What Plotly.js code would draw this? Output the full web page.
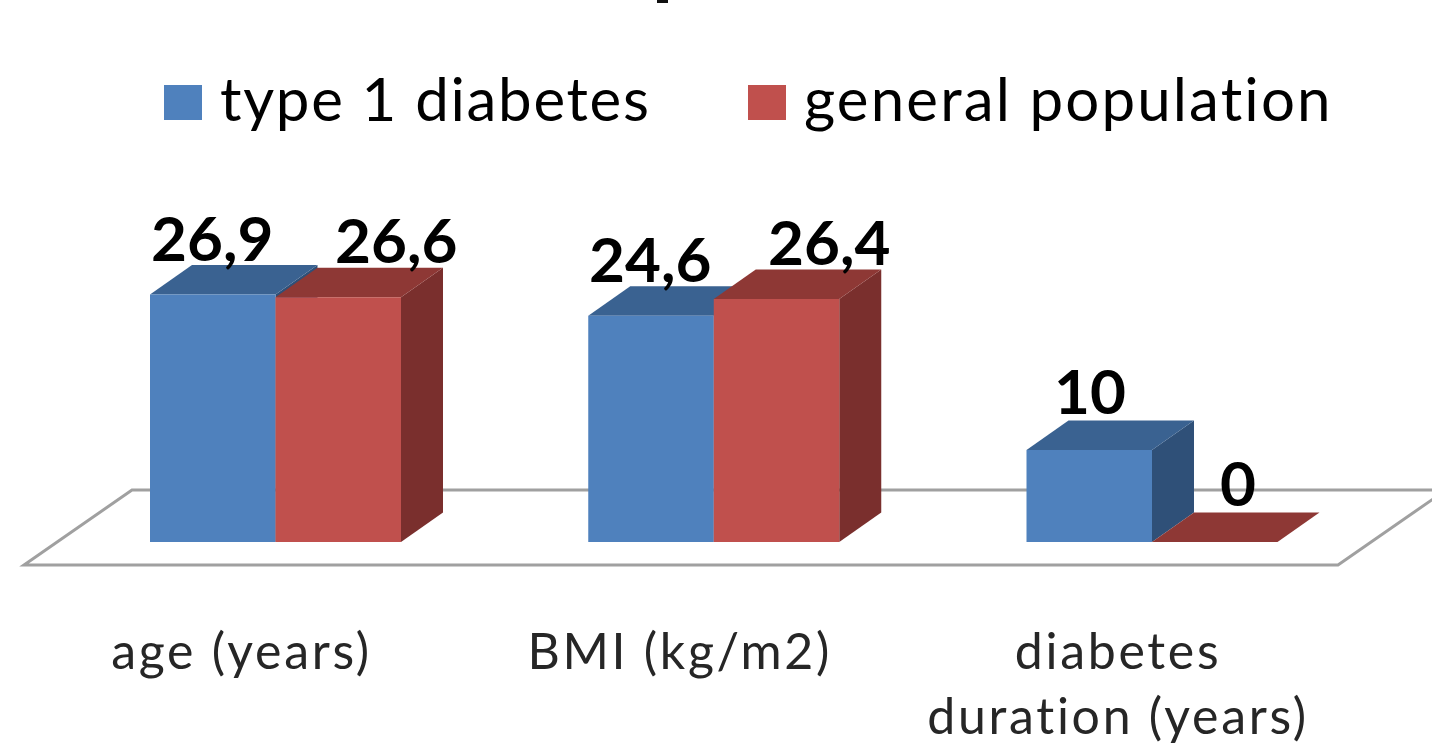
<!DOCTYPE html>
<html>
<head>
<meta charset="utf-8">
<script src="https://cdn.plot.ly/plotly-3.0.1.min.js"></script>
<style>
html,body{margin:0;padding:0;background:#fff;overflow:hidden}
/* Larger legend swatches and slightly open letter spacing for the big type */
.legend .legendpoints path{d:path("M19,22.5H-19V-12.5H19Z") !important}
.legend .scrollbox{clip-path:none !important}
.legendtext{letter-spacing:1.7px;font-variant-ligatures:none}
.legend .traces:nth-child(2) .legendtext{letter-spacing:2.15px}
.xtick text{letter-spacing:2.7px;font-variant-ligatures:none}
</style>
</head>
<body>
<div id="chart" style="width:1432px;height:753px"></div>
<script>
const categories = ['age (years)', 'BMI (kg/m2)', 'diabetes<br>duration (years)'];
const seriesNames = ['type 1 diabetes', 'general population'];
const type1Values = [26.9, 24.6, 10];
const generalValues = [26.6, 26.4, 0];
const type1Labels = ['26,9', '24,6', '10'];
const generalLabels = ['26,6', '26,4', '0'];

// Pixel offsets of the value labels relative to the top of each bar's front face
const type1Shift = [[-1, 38], [-1, 38], [1, 40]];
const generalShift = [[58, 38], [52, 38], [23, 40]];

const frontColors = ['#4F81BD', '#C0504D'];
const topColors = ['#3A6291', '#8E3835'];
const sideColors = ['#2F5078', '#7A2F2D'];

// Plot area sits flush with the page sides; these scales give one category step and the value unit
const plotTop = 180, plotBottom = 600, baselinePx = 542, pxPerUnit = 9.2;
const stepPx = 438.25, firstCenterPx = 275.5, barPx = 125.5;
const pageW = 1432;
const xRange = [-firstCenterPx / stepPx, (pageW - firstCenterPx) / stepPx];
const yRange = [(baselinePx - plotBottom) / pxPerUnit, (baselinePx - plotTop) / pxPerUnit];
const barW = barPx / stepPx;
const depthX = 42 / stepPx, depthY = 29.5 / pxPerUnit;

const xIdx = categories.map((_, i) => i);

function poly(points, fill) {
  return {
    type: 'path', xref: 'x', yref: 'y', layer: 'below',
    path: points.map((p, i) => (i ? 'L' : 'M') + p[0] + ',' + p[1]).join(' ') + ' Z',
    fillcolor: fill, line: {width: 0}
  };
}

// Floor plane: a parallelogram reaching in front of and behind the bars
const floorFrontY = -23 / pxPerUnit, floorBackY = 52 / pxPerUnit;
const floorLeft = (24 - firstCenterPx) / stepPx, floorRight = (1338 - firstCenterPx) / stepPx;
const floorSkew = 108 / stepPx;
const floor = {
  type: 'path', xref: 'x', yref: 'y', layer: 'below',
  path: `M${floorLeft},${floorFrontY} L${floorRight},${floorFrontY} L${floorRight + floorSkew},${floorBackY} L${floorLeft + floorSkew},${floorBackY} Z`,
  fillcolor: '#FFFFFF', line: {color: '#A0A0A0', width: 3}
};

// Top and side faces of the extruded bars, derived from the same values as the front faces
const faces = [];
[type1Values, generalValues].forEach((vals, s) => {
  vals.forEach((v, i) => {
    const x0 = i - barW + s * barW, x1 = x0 + barW;
    faces.push(poly([[x1, 0], [x1 + depthX, depthY], [x1 + depthX, v + depthY], [x1, v]], sideColors[s]));
    faces.push(poly([[x0, v], [x1, v], [x1 + depthX, v + depthY], [x0 + depthX, v + depthY]], topColors[s]));
  });
});

// Tail of a heading that runs off the top edge of the page
const headingTail = {
  type: 'rect', xref: 'paper', yref: 'paper',
  x0: 657 / pageW, x1: 668 / pageW,
  y0: 1 + (plotTop - 3) / (plotBottom - plotTop), y1: 1 + plotTop / (plotBottom - plotTop),
  fillcolor: '#111111', line: {width: 0}
};

const labelFont = {family: 'Lato, sans-serif', size: 62, color: '#000000', weight: 700};
function valueLabels(vals, labels, shift) {
  return vals.map((v, i) => ({
    x: i, y: v, xref: 'x', yref: 'y', text: labels[i], showarrow: false,
    xshift: shift[i][0] + (shift === type1Shift ? -barPx / 2 : barPx / 2), yshift: shift[i][1] + 20,
    font: labelFont
  }));
}

const traces = [type1Values, generalValues].map((vals, s) => ({
  type: 'bar', x: xIdx, y: vals, name: seriesNames[s],
  marker: {color: frontColors[s], line: {width: 0}}, hoverinfo: 'x+y'
}));

const layout = {
  width: 1432, height: 753,
  margin: {l: 0, r: 0, t: plotTop, b: 753 - plotBottom, pad: 0},
  paper_bgcolor: '#FFFFFF', plot_bgcolor: 'rgba(0,0,0,0)',
  barmode: 'group', bargap: 1 - 2 * barW, bargroupgap: 0,
  xaxis: {
    range: xRange, tickmode: 'array', tickvals: xIdx, ticktext: categories,
    showgrid: false, zeroline: false, showline: false, ticks: '', ticklabelstandoff: 18,
    ticklabelshift: -34,
    tickfont: {family: 'Lato, sans-serif', size: 50, color: '#262626'}
  },
  yaxis: {range: yRange, visible: false},
  legend: {
    orientation: 'h', x: 146 / pageW, xanchor: 'left', y: 1 - 52 / 753, yanchor: 'top', yref: 'container',
    itemwidth: 64, entrywidth: 505, entrywidthmode: 'pixels', traceorder: 'normal',
    font: {family: 'Lato, sans-serif', size: 60, color: '#000000'}, bgcolor: 'rgba(0,0,0,0)', borderwidth: 0,
    itemclick: false, itemdoubleclick: false
  },
  shapes: [floor].concat(faces, [headingTail]),
  annotations: valueLabels(type1Values, type1Labels, type1Shift)
    .concat(valueLabels(generalValues, generalLabels, generalShift)),
  showlegend: true
};

Plotly.newPlot('chart', traces, layout, {displayModeBar: false, responsive: false});
</script>
</body>
</html>
